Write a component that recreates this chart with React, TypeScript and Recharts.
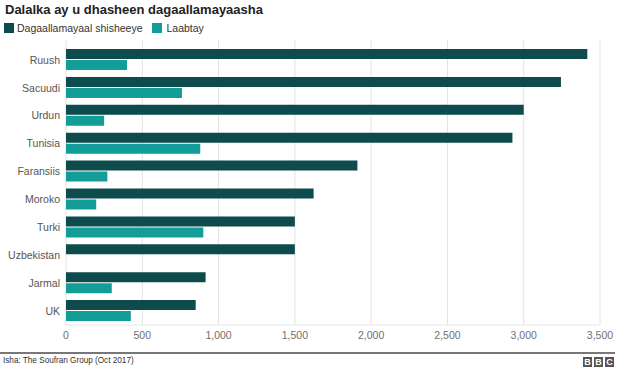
import React from 'react';
import { BarChart, Bar, XAxis, YAxis, CartesianGrid } from 'recharts';

const categories = ['Ruush', 'Sacuudi', 'Urdun', 'Tunisia', 'Faransiis', 'Moroko', 'Turki', 'Uzbekistan', 'Jarmal', 'UK'];
const foreignFighters = [3417, 3244, 3000, 2926, 1910, 1623, 1500, 1500, 915, 850];
const returned = [400, 760, 250, 880, 271, 198, 900, 0, 300, 425];
const xTicks = [0, 500, 1000, 1500, 2000, 2500, 3000, 3500];

const DARK = '#0d4b4c';
const TEAL = '#129d99';
const FONT = '"Liberation Sans", Arial, Helvetica, sans-serif';

const data = categories.map((c, i) => ({ name: c, fighters: foreignFighters[i], returned: returned[i] }));

const fmt = (v: number) => v.toLocaleString('en-US');

export default function App() {
  return (
    <div style={{ position: 'absolute', left: 0, top: 0, width: 640, height: 371, background: '#fff', fontFamily: FONT, overflow: 'hidden' }}>
      <div style={{ position: 'absolute', left: 5, top: 2, fontSize: 13, lineHeight: '16px', fontWeight: 'bold', color: '#222', whiteSpace: 'nowrap' }}>
        Dalalka ay u dhasheen dagaallamayaasha
      </div>
      <div style={{ position: 'absolute', left: 4, top: 21, height: 14, display: 'flex', alignItems: 'center', fontSize: 10.5, color: '#333', whiteSpace: 'nowrap' }}>
        <span style={{ display: 'inline-block', width: 10, height: 10, background: DARK, marginRight: 3 }} />
        <span>Dagaallamayaal shisheeye</span>
        <span style={{ display: 'inline-block', width: 10, height: 10, background: TEAL, marginLeft: 9, marginRight: 5 }} />
        <span>Laabtay</span>
      </div>
      <BarChart
        width={640}
        height={371}
        data={data}
        layout="vertical"
        margin={{ top: 40, right: 40, bottom: 16, left: 0 }}
        barSize={10}
        barGap={1}
      >
        <CartesianGrid horizontal={false} stroke="#e2e2e2" strokeWidth={1} />
        <XAxis
          type="number"
          domain={[0, 3500]}
          ticks={xTicks}
          tickFormatter={fmt}
          axisLine={{ stroke: '#e6e6e6' }}
          tickLine={false}
          tickSize={0}
          tickMargin={7}
          height={30}
          tick={{ fill: '#707070', fontSize: 10.5, fontFamily: FONT }}
          interval={0}
        />
        <YAxis
          type="category"
          dataKey="name"
          width={66}
          axisLine={false}
          tickLine={false}
          tickSize={0}
          tickMargin={6}
          padding={{ top: 6, bottom: 0 }}
          tick={{ fill: '#555', fontSize: 10.5, fontFamily: FONT }}
          interval={0}
        />
        <Bar dataKey="fighters" fill={DARK} isAnimationActive={false} />
        <Bar dataKey="returned" fill={TEAL} isAnimationActive={false} />
      </BarChart>
      <div style={{ position: 'absolute', left: 0, top: 352, width: 615, height: 1.5, background: '#777' }} />
      <div style={{ position: 'absolute', left: 3, top: 354, fontSize: 9.5, lineHeight: '11px', color: '#333', whiteSpace: 'nowrap', transform: 'scaleX(0.86)', transformOrigin: 'left center' }}>
        Isha: The Soufran Group (Oct 2017)
      </div>
      <div style={{ position: 'absolute', left: 583, top: 357, display: 'flex', gap: 2 }}>
        {['B', 'B', 'C'].map((l, i) => (
          <div key={i} style={{ width: 9, height: 10, background: '#555', color: '#fff', fontSize: 9, fontWeight: 'bold', lineHeight: '10px', textAlign: 'center' }}>{l}</div>
        ))}
      </div>
    </div>
  );
}
